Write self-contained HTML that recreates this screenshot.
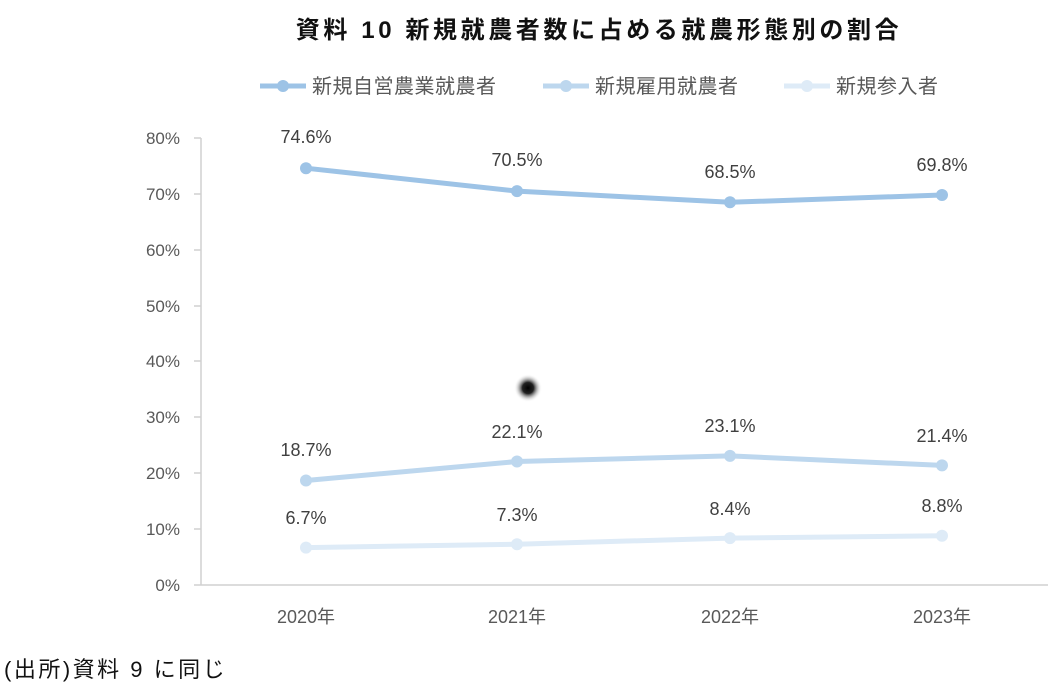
<!DOCTYPE html><html><head><meta charset="utf-8"><style>body{margin:0;background:#fff}svg text{font-family:"Liberation Sans","Noto Sans CJK JP",sans-serif}</style></head><body>
<svg width="1061" height="691" viewBox="0 0 1061 691">
<defs><radialGradient id="g"><stop offset="0" stop-color="#000"/><stop offset="0.4" stop-color="#222"/><stop offset="1" stop-color="#fff" stop-opacity="0"/></radialGradient></defs>
<text x="599" y="38" font-size="24" font-weight="bold" text-anchor="middle" fill="#111" letter-spacing="3.6">資料 10  新規就農者数に占める就農形態別の割合</text>
<g font-size="20" fill="#595959" letter-spacing="0.5">
<line x1="260" y1="86" x2="306" y2="86" stroke="#9dc3e6" stroke-width="5"/><circle cx="283" cy="86" r="6" fill="#9dc3e6"/><text x="312" y="93">新規自営農業就農者</text>
<line x1="543" y1="86" x2="589" y2="86" stroke="#bdd7ee" stroke-width="5"/><circle cx="566" cy="86" r="6" fill="#bdd7ee"/><text x="595" y="93">新規雇用就農者</text>
<line x1="784" y1="86" x2="830" y2="86" stroke="#deebf7" stroke-width="5"/><circle cx="807" cy="86" r="6" fill="#deebf7"/><text x="836" y="93">新規参入者</text>
</g>
<g stroke="#d0d0d0" stroke-width="1.5"><line x1="201" y1="138" x2="201" y2="585"/><line x1="201" y1="585" x2="1048" y2="585"/>
<line x1="194" y1="138" x2="201" y2="138"/><line x1="194" y1="194" x2="201" y2="194"/><line x1="194" y1="250" x2="201" y2="250"/><line x1="194" y1="306" x2="201" y2="306"/><line x1="194" y1="361" x2="201" y2="361"/><line x1="194" y1="417" x2="201" y2="417"/><line x1="194" y1="473" x2="201" y2="473"/><line x1="194" y1="529" x2="201" y2="529"/><line x1="194" y1="585" x2="201" y2="585"/></g>
<g font-size="17" fill="#595959" text-anchor="end">
<text x="180" y="144">80%</text><text x="180" y="200">70%</text><text x="180" y="256">60%</text><text x="180" y="312">50%</text><text x="180" y="367">40%</text><text x="180" y="423">30%</text><text x="180" y="479">20%</text><text x="180" y="535">10%</text><text x="180" y="591">0%</text></g>
<g font-size="18" fill="#595959" text-anchor="middle">
<text x="306" y="623">2020年</text><text x="517" y="623">2021年</text><text x="730" y="623">2022年</text><text x="942" y="623">2023年</text></g>
<polyline points="306,547.6 517,544.2 730,538.1 942,535.8" fill="none" stroke="#deebf7" stroke-width="5"/>
<g fill="#deebf7"><circle cx="306" cy="547.6" r="6"/><circle cx="517" cy="544.2" r="6"/><circle cx="730" cy="538.1" r="6"/><circle cx="942" cy="535.8" r="6"/></g>
<polyline points="306,480.5 517,461.5 730,455.9 942,465.4" fill="none" stroke="#bdd7ee" stroke-width="5"/>
<g fill="#bdd7ee"><circle cx="306" cy="480.5" r="6"/><circle cx="517" cy="461.5" r="6"/><circle cx="730" cy="455.9" r="6"/><circle cx="942" cy="465.4" r="6"/></g>
<polyline points="306,168.2 517,191.1 730,202.3 942,195" fill="none" stroke="#9dc3e6" stroke-width="5"/>
<g fill="#9dc3e6"><circle cx="306" cy="168.2" r="6"/><circle cx="517" cy="191.1" r="6"/><circle cx="730" cy="202.3" r="6"/><circle cx="942" cy="195" r="6"/></g>
<g font-size="18" fill="#404040" text-anchor="middle">
<text x="306" y="143">74.6%</text><text x="517" y="166">70.5%</text><text x="730" y="178">68.5%</text><text x="942" y="171">69.8%</text>
<text x="306" y="456">18.7%</text><text x="517" y="438">22.1%</text><text x="730" y="432">23.1%</text><text x="942" y="442">21.4%</text>
<text x="306" y="524">6.7%</text><text x="517" y="521">7.3%</text><text x="730" y="515">8.4%</text><text x="942" y="512">8.8%</text></g>
<circle cx="528" cy="388" r="14" fill="url(#g)"/>
<text x="4" y="677" font-size="22" fill="#111" letter-spacing="2.5">(出所)資料 9 に同じ</text>
</svg></body></html>
